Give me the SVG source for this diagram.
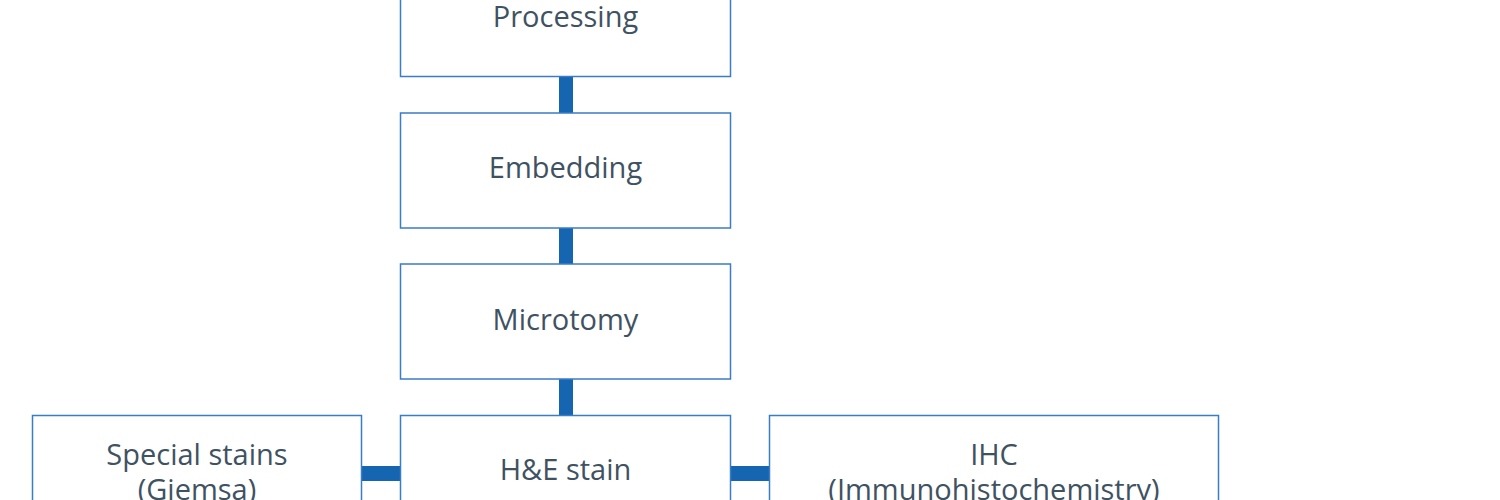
<svg xmlns="http://www.w3.org/2000/svg" width="1500" height="500" viewBox="0 0 1500 500">
<style>
.box{fill:#ffffff;stroke:#3a7cc5;stroke-width:1.5}
.lbl{font-family:"Open Sans","Noto Sans",sans-serif;font-size:29px;fill:#3f5262;text-anchor:middle}
.con{fill:#1565b0}
</style>
<rect width="1500" height="500" fill="#ffffff"/>
<g id="connectors">
<rect class="con" x="559" y="76" width="14" height="37"/>
<rect class="con" x="559" y="228" width="14" height="36"/>
<rect class="con" x="559" y="379" width="14" height="36"/>
<rect class="con" x="362" y="466" width="38" height="15"/>
<rect class="con" x="731" y="466" width="38" height="15"/>
</g>
<g id="processing">
<rect class="box" x="400.5" y="-38.5" width="330" height="115"/>
<text class="lbl" x="565.5" y="27">Processing</text>
</g>
<g id="embedding">
<rect class="box" x="400.5" y="113" width="330" height="115"/>
<text class="lbl" x="565.5" y="178">Embedding</text>
</g>
<g id="microtomy">
<rect class="box" x="400.5" y="264" width="330" height="115"/>
<text class="lbl" x="565.5" y="330">Microtomy</text>
</g>
<g id="he-stain">
<rect class="box" x="400.5" y="415.5" width="330" height="115"/>
<text class="lbl" x="565.5" y="480">H&amp;E stain</text>
</g>
<g id="special-stains">
<rect class="box" x="32.5" y="415.5" width="329" height="115"/>
<text class="lbl" x="197" y="465">Special stains</text>
<text class="lbl" x="197" y="500">(Giemsa)</text>
</g>
<g id="ihc">
<rect class="box" x="769.5" y="415.5" width="449" height="115"/>
<text class="lbl" x="994" y="465">IHC</text>
<text class="lbl" x="994" y="500">(Immunohistochemistry)</text>
</g>
</svg>
